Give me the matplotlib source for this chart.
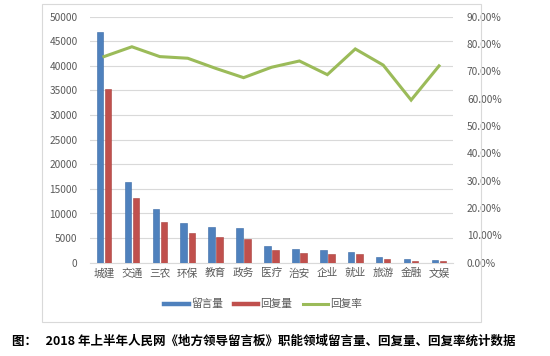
import matplotlib
matplotlib.use("Agg")
import matplotlib.pyplot as plt
from matplotlib.patches import Rectangle
from matplotlib.lines import Line2D
from matplotlib.ticker import FuncFormatter
import numpy as np

plt.rcParams['font.family'] = ['Noto Sans CJK SC', 'DejaVu Sans']

categories = ['城建', '交通', '三农', '环保', '教育', '政务', '医疗', '治安', '企业', '就业', '旅游', '金融', '文娱']
messages = [46850, 16400, 10980, 8130, 7320, 7110, 3450, 2720, 2520, 2110, 1160, 810, 610]
replies = [35400, 13150, 8330, 5980, 5220, 4880, 2520, 1970, 1770, 1770, 810, 400, 400]
reply_rate = [75.4, 79.0, 75.4, 74.8, 71.1, 67.7, 71.5, 73.8, 68.8, 78.2, 72.3, 59.5, 72.0]
left_ticks = list(range(0, 50001, 5000))
right_ticks = list(range(0, 91, 10))
legend_labels = ['留言量', '回复量', '回复率']
caption = '图：   2018 年上半年人民网《地方领导留言板》职能领域留言量、回复量、回复率统计数据'

BLUE = '#4F81BD'
RED = '#C0504D'
GREEN = '#9BBB59'
GRID = '#D9D9D9'
TXT = '#595959'

W, H = 550, 356
fig = plt.figure(figsize=(W / 100, H / 100), dpi=100)

# chart frame
fig.patches.append(Rectangle((42 / W, 1 - 322 / H), (481 - 42) / W, (322 - 4) / H,
                             transform=fig.transFigure, fill=False, edgecolor=GRID, linewidth=0.8))

ax = fig.add_axes([90 / W, 1 - 262.7 / H, (453 - 90) / W, 246 / H])
x = np.arange(len(categories))
bw = 0.23
off = 0.145
ax.bar(x - off, messages, width=bw, color=BLUE, edgecolor='#3A6AA6', linewidth=0.4, zorder=3)
ax.bar(x + off, replies, width=bw, color=RED, edgecolor='#A8413E', linewidth=0.4, zorder=3)
ax.set_xlim(-0.5, len(categories) - 0.5)
ax.set_ylim(0, 50000)
ax.set_yticks(left_ticks)
ax.yaxis.grid(True, color=GRID, linewidth=0.8, zorder=0)
ax.set_axisbelow(True)
for s in ['top', 'right', 'left']:
    ax.spines[s].set_visible(False)
ax.spines['bottom'].set_color(GRID)
ax.spines['bottom'].set_linewidth(0.8)
ax.set_xticks(x)
ax.set_xticklabels(categories, fontsize=7.7, color=TXT)
ax.tick_params(axis='both', length=0)
ax.tick_params(axis='x', pad=4)
ax.tick_params(axis='y', labelsize=7.3, labelcolor=TXT, pad=9)

ax2 = ax.twinx()
ax2.plot(x, reply_rate, color=GREEN, linewidth=2.2, zorder=4, solid_joinstyle='miter')
ax2.set_ylim(0, 90)
ax2.set_yticks(right_ticks)
ax2.yaxis.set_major_formatter(FuncFormatter(lambda v, p: f'{v:.2f}%'))
for s in ['top', 'right', 'left', 'bottom']:
    ax2.spines[s].set_visible(False)
ax2.tick_params(axis='y', length=0, labelsize=7.3, labelcolor=TXT, pad=10)

handles = [Line2D([0], [0], color=BLUE, linewidth=3.2),
           Line2D([0], [0], color=RED, linewidth=3.2),
           Line2D([0], [0], color=GREEN, linewidth=2.2)]
fig.legend(handles, legend_labels, loc='center', bbox_to_anchor=(263 / W, 1 - 304 / H),
           ncol=3, frameon=False, fontsize=7.7, handlelength=2.3, handletextpad=0.2,
           columnspacing=1.0, labelcolor=TXT)

fig.text(12 / W, 1 - 341 / H, caption, fontsize=9, fontweight='bold', color='black',
         ha='left', va='center')

fig.savefig('out.png', dpi=100)
